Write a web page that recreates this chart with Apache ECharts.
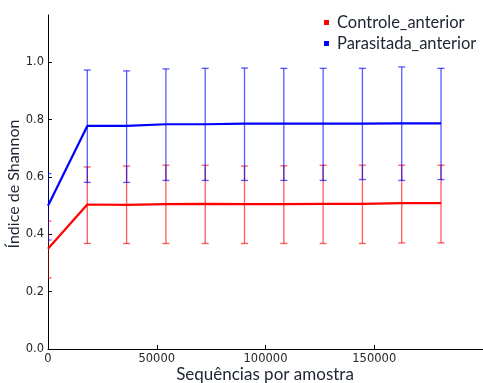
<!DOCTYPE html>
<html>
<head>
<meta charset="utf-8">
<script src="https://cdn.jsdelivr.net/npm/echarts@6/dist/echarts.min.js"></script>
<style>
  html, body { margin: 0; padding: 0; background: #fff; }
  #chart { width: 483px; height: 383px; }
</style>
</head>
<body>
<div id="chart"></div>
<script>
// Sequencing depth (reads per sample) at which diversity was rarefied
const depths = [0, 18070, 36140, 54210, 72280, 90350, 108420, 126490, 144560, 162630, 180700];

// Controle_anterior: mean Shannon index and error-bar bounds
const controleMean = [0.350, 0.504, 0.503, 0.505, 0.506, 0.505, 0.505, 0.506, 0.506, 0.509, 0.509];
const controleLow  = [0.248, 0.368, 0.368, 0.368, 0.368, 0.368, 0.368, 0.368, 0.368, 0.370, 0.370];
const controleHigh = [0.446, 0.635, 0.638, 0.641, 0.641, 0.638, 0.639, 0.641, 0.641, 0.641, 0.641];

// Parasitada_anterior: mean Shannon index and error-bar bounds
const parasitadaMean = [0.500, 0.778, 0.778, 0.784, 0.784, 0.786, 0.786, 0.786, 0.786, 0.787, 0.787];
const parasitadaLow  = [0.380, 0.581, 0.581, 0.588, 0.588, 0.588, 0.588, 0.588, 0.591, 0.588, 0.591];
const parasitadaHigh = [0.612, 0.973, 0.970, 0.977, 0.979, 0.980, 0.979, 0.979, 0.979, 0.984, 0.979];

const yTicks = [0, 0.2, 0.4, 0.6, 0.8, 1.0];
const xTicks = [0, 50000, 100000, 150000];

const seriesNames = ['Controle_anterior', 'Parasitada_anterior'];

const RED = '#ff0000';
const BLUE = '#0000ff';
const TEXT = '#262626';
const TITLE = '#1c2433';

function zip(a, b) { return a.map((v, i) => [v, b[i]]); }

function errorBars(name, low, high, color, z) {
  return {
    name: name + ' (erro)',
    type: 'custom',
    clip: true,
    z: z,
    silent: true,
    data: depths.map((d, i) => [d, low[i], high[i]]),
    encode: { x: 0, y: [1, 2] },
    renderItem: function (params, api) {
      const lo = api.coord([api.value(0), api.value(1)]);
      const hi = api.coord([api.value(0), api.value(2)]);
      const cap = 3.5;
      const style = { stroke: color, lineWidth: 1.3, opacity: 0.65 };
      return {
        type: 'group',
        children: [
          { type: 'line', shape: { x1: lo[0], y1: lo[1], x2: hi[0], y2: hi[1] }, style: style },
          { type: 'line', shape: { x1: lo[0] - cap, y1: lo[1], x2: lo[0] + cap, y2: lo[1] }, style: style },
          { type: 'line', shape: { x1: hi[0] - cap, y1: hi[1], x2: hi[0] + cap, y2: hi[1] }, style: style }
        ]
      };
    }
  };
}

function meanLine(name, values, color, z) {
  return {
    name: name,
    type: 'line',
    z: z,
    data: zip(depths, values),
    symbol: 'none',
    color: color,
    lineStyle: { color: color, width: 2.2 },
    animation: false
  };
}

const chart = echarts.init(document.getElementById('chart'), null, { renderer: 'canvas' });

chart.setOption({
  animation: false,
  backgroundColor: '#ffffff',
  grid: { left: 48, top: 15, right: -8, bottom: 34, containLabel: false },
  legend: {
    data: seriesNames,
    orient: 'vertical',
    left: 319,
    top: 9,
    icon: 'rect',
    itemWidth: 5,
    itemHeight: 5,
    itemGap: 4,
    textStyle: { fontFamily: 'Lato', fontSize: 16.5, color: TITLE, padding: [0, 0, 0, 3] }
  },
  xAxis: {
    type: 'value',
    min: 0,
    max: 200000,
    interval: 50000,
    axisLine: { show: true, onZero: false, lineStyle: { color: '#000', width: 1 } },
    axisTick: { show: true, inside: true, length: 4, lineStyle: { color: '#000' }, customValues: xTicks },
    axisLabel: {
      customValues: xTicks,
      margin: 4,
      fontFamily: 'DejaVu Sans',
      fontSize: 11.5,
      color: TEXT,
      formatter: v => String(v)
    },
    splitLine: { show: false }
  },
  yAxis: {
    type: 'value',
    min: 0,
    max: 1.165,
    interval: 0.2,
    axisLine: { show: true, onZero: false, lineStyle: { color: '#000', width: 1 } },
    axisTick: { show: true, inside: true, length: 4, lineStyle: { color: '#000' }, customValues: yTicks },
    axisLabel: {
      customValues: yTicks,
      margin: 4,
      fontFamily: 'DejaVu Sans',
      fontSize: 11.5,
      color: TEXT,
      formatter: v => v.toFixed(1)
    },
    splitLine: { show: false }
  },
  graphic: [
    {
      type: 'text',
      x: 265,
      y: 375,
      style: { text: 'Sequências por amostra', font: '17px Lato', fill: TITLE, align: 'center', verticalAlign: 'middle' }
    },
    {
      type: 'text',
      x: 6,
      y: 184,
      rotation: Math.PI / 2,
      style: { text: 'Índice de Shannon', font: '16px Lato', fill: TITLE, align: 'center', verticalAlign: 'top' }
    }
  ],
  series: [
    errorBars(seriesNames[0], controleLow, controleHigh, RED, 2),
    meanLine(seriesNames[0], controleMean, RED, 3),
    errorBars(seriesNames[1], parasitadaLow, parasitadaHigh, BLUE, 4),
    meanLine(seriesNames[1], parasitadaMean, BLUE, 5)
  ]
});
</script>
</body>
</html>
